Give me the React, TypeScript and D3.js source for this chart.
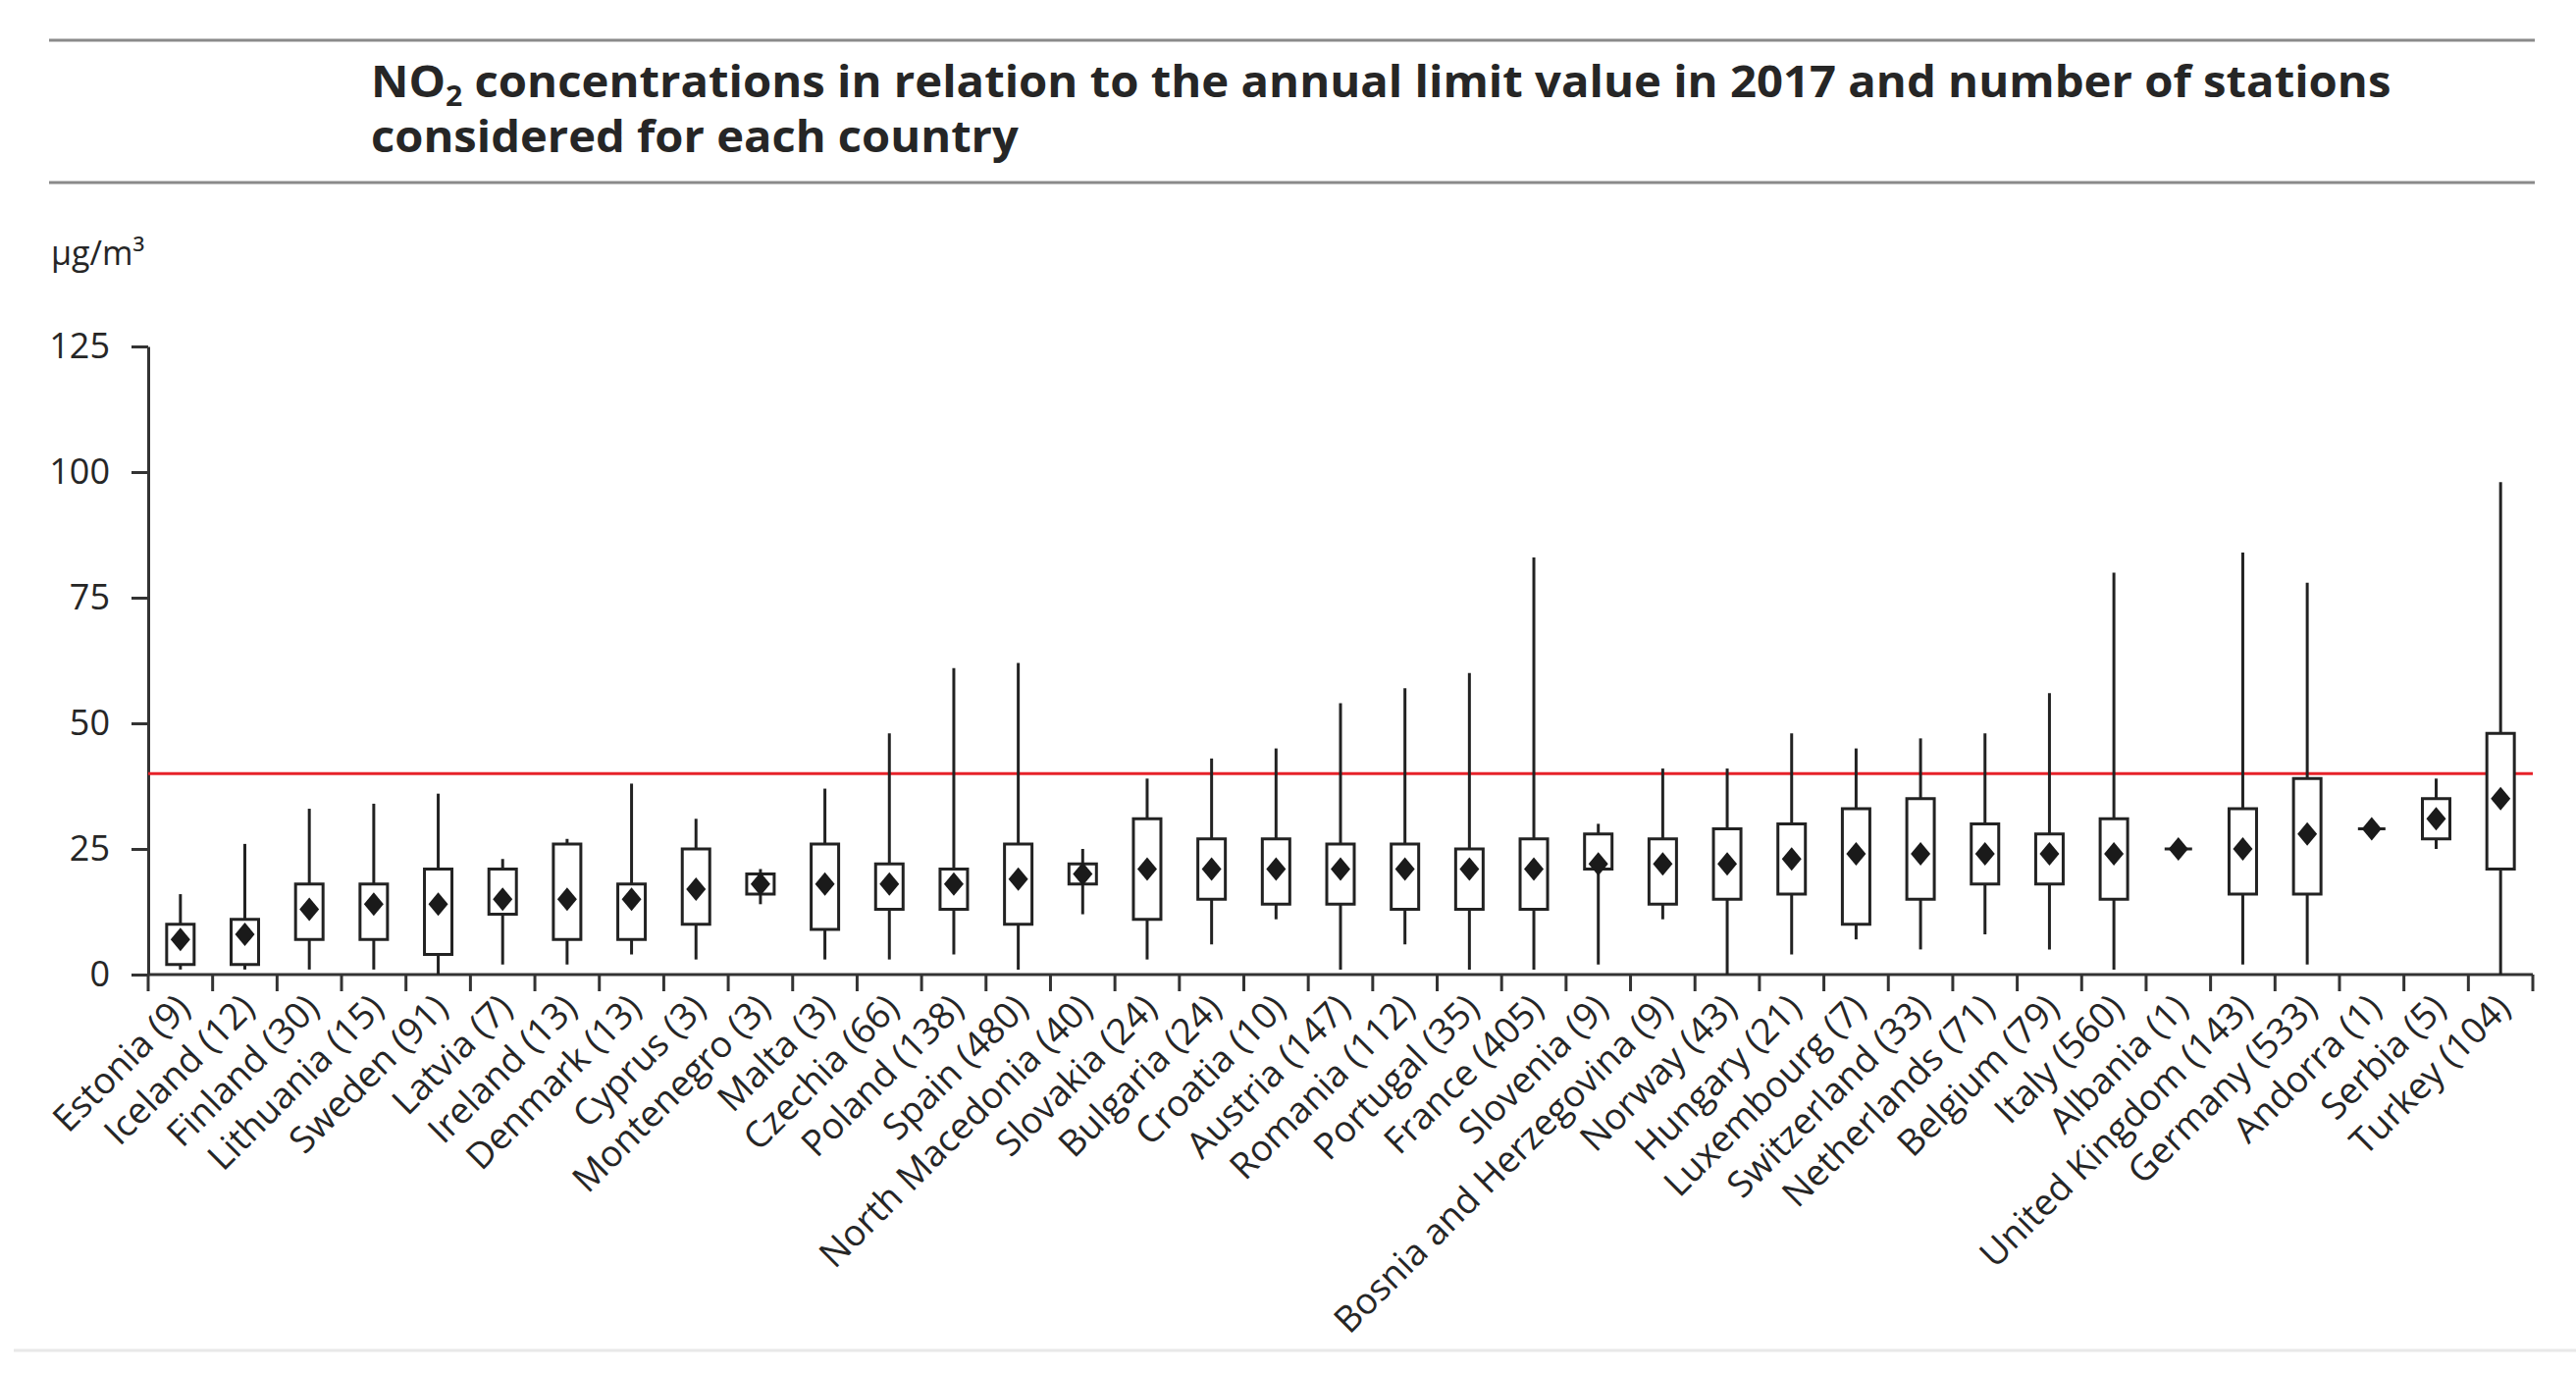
import React, { useEffect, useRef } from 'react';
import * as d3 from 'd3';

const countries = [
	'Estonia', 'Iceland', 'Finland', 'Lithuania', 'Sweden', 'Latvia', 'Ireland', 'Denmark',
	'Cyprus', 'Montenegro', 'Malta', 'Czechia', 'Poland', 'Spain', 'North Macedonia',
	'Slovakia', 'Bulgaria', 'Croatia', 'Austria', 'Romania', 'Portugal', 'France', 'Slovenia',
	'Bosnia and Herzegovina', 'Norway', 'Hungary', 'Luxembourg', 'Switzerland', 'Netherlands',
	'Belgium', 'Italy', 'Albania', 'United Kingdom', 'Germany', 'Andorra', 'Serbia', 'Turkey',
];
const stations = [9, 12, 30, 15, 91, 7, 13, 13, 3, 3, 3, 66, 138, 480, 40, 24, 24, 10, 147, 112, 35, 405, 9, 9, 43, 21, 7, 33, 71, 79, 560, 1, 143, 533, 1, 5, 104];

const mins = [1, 1, 1, 1, 0, 2, 2, 4, 3, 14, 3, 3, 4, 1, 12, 3, 6, 11, 1, 6, 1, 1, 2, 11, 0, 4, 7, 5, 8, 5, 1, 25, 2, 2, 29, 25, 0];
const q1s = [2, 2, 7, 7, 4, 12, 7, 7, 10, 16, 9, 13, 13, 10, 18, 11, 15, 14, 14, 13, 13, 13, 21, 14, 15, 16, 10, 15, 18, 18, 15, 25, 16, 16, 29, 27, 21];
const medians = [7, 8, 13, 14, 14, 15, 15, 15, 17, 18, 18, 18, 18, 19, 20, 21, 21, 21, 21, 21, 21, 21, 22, 22, 22, 23, 24, 24, 24, 24, 24, 25, 25, 28, 29, 31, 35];
const q3s = [10, 11, 18, 18, 21, 21, 26, 18, 25, 20, 26, 22, 21, 26, 22, 31, 27, 27, 26, 26, 25, 27, 28, 27, 29, 30, 33, 35, 30, 28, 31, 25, 33, 39, 29, 35, 48];
const maxs = [16, 26, 33, 34, 36, 23, 27, 38, 31, 21, 37, 48, 61, 62, 25, 39, 43, 45, 54, 57, 60, 83, 30, 41, 41, 48, 45, 47, 48, 56, 80, 25, 84, 78, 29, 39, 98];

const yTicks = [0, 25, 50, 75, 100, 125];
const limitValue = 40;

const W = 2625;
const H = 1400;
const FONT = '"Open Sans", "Noto Sans", sans-serif';
const INK = '#262626';

const App: React.FC = () => {
	const ref = useRef<SVGSVGElement>(null);

	useEffect(() => {
		if (!ref.current) return;
		const svg = d3.select(ref.current);
		svg.selectAll('*').remove();

		const labels = countries.map((c, i) => `${c} (${stations[i]})`);
		const rows = labels.map((label, i) => ({
			label,
			min: mins[i],
			q1: q1s[i],
			med: medians[i],
			q3: q3s[i],
			max: maxs[i],
		}));

		const x = d3.scaleBand().domain(labels).range([151, 2581]).padding(0);
		const y = d3.scaleLinear().domain([0, 125]).range([993, 353]);
		const bw = 28;

		// header rules
		svg.append('line').attr('x1', 50).attr('x2', 2583).attr('y1', 41).attr('y2', 41)
			.attr('stroke', '#8a8a8a').attr('stroke-width', 3);
		svg.append('line').attr('x1', 50).attr('x2', 2583).attr('y1', 186).attr('y2', 186)
			.attr('stroke', '#8a8a8a').attr('stroke-width', 3);
		svg.append('line').attr('x1', 14).attr('x2', W).attr('y1', 1376).attr('y2', 1376)
			.attr('stroke', '#e8e8e8').attr('stroke-width', 3);

		// title, squeezed horizontally to the condensed look of the original
		const title = (ty: number, width: number) => {
			const gT = svg.append('g');
			const t = gT.append('text')
				.attr('font-family', FONT).attr('font-weight', 700).attr('font-size', 44)
				.attr('fill', INK);
			return { gT, t, ty, width };
		};
		const l1 = title(99, 2059);
		l1.t.append('tspan').text('NO');
		l1.t.append('tspan').attr('font-size', 28).attr('dy', 9).text('2');
		l1.t.append('tspan').attr('dy', -9).text(' concentrations in relation to the annual limit value in 2017 and number of stations');
		const l2 = title(155, 661);
		l2.t.text('considered for each country');
		[l1, l2].forEach(({ gT, t, ty, width }) => {
			const w = (t.node() as SVGTextElement).getBBox().width || width;
			gT.attr('transform', `translate(378,${ty}) scale(${width / w},1)`);
		});

		svg.append('text').attr('x', 52).attr('y', 270)
			.attr('font-family', FONT).attr('font-size', 34).attr('fill', INK)
			.text('µg/m³');

		// y axis
		const yAxis = svg.append('g').attr('transform', 'translate(151,0)')
			.call(d3.axisLeft(y).tickValues(yTicks).tickSize(17).tickSizeOuter(0).tickPadding(22));
		yAxis.select('.domain').attr('stroke', '#333').attr('stroke-width', 3);
		yAxis.selectAll('.tick line').attr('stroke', '#333').attr('stroke-width', 3);
		yAxis.selectAll('.tick text').attr('font-family', FONT).attr('font-size', 36).attr('fill', INK);

		// x axis with ticks between categories
		const g = svg.append('g');
		g.append('line').attr('x1', 151).attr('x2', 2581).attr('y1', y(0)).attr('y2', y(0))
			.attr('stroke', '#333').attr('stroke-width', 3);
		const edges = labels.map((l) => x(l) ?? 0).concat([2581]);
		g.selectAll('line.xt').data(edges).enter().append('line').attr('class', 'xt')
			.attr('x1', (d) => d).attr('x2', (d) => d)
			.attr('y1', y(0)).attr('y2', y(0) + 17)
			.attr('stroke', '#333').attr('stroke-width', 3);
		g.selectAll('text.xl').data(labels).enter().append('text').attr('class', 'xl')
			.attr('transform', (d) => `translate(${(x(d) ?? 0) + x.bandwidth() / 2 + 12},${y(0) + 36}) rotate(-45)`)
			.attr('text-anchor', 'end')
			.attr('font-family', FONT).attr('font-size', 37).attr('fill', INK)
			.text((d) => d);

		// limit value line
		svg.append('line').attr('x1', 151).attr('x2', 2581)
			.attr('y1', y(limitValue)).attr('y2', y(limitValue))
			.attr('stroke', '#e62229').attr('stroke-width', 3);

		// boxes
		const boxes = svg.append('g').selectAll('g').data(rows).enter().append('g')
			.attr('transform', (d) => `translate(${(x(d.label) ?? 0) + x.bandwidth() / 2},0)`);
		boxes.append('line').attr('x1', 0).attr('x2', 0)
			.attr('y1', (d) => y(d.min)).attr('y2', (d) => y(d.max))
			.attr('stroke', '#222').attr('stroke-width', 3);
		boxes.append('path')
			.attr('d', (d) => `M${-bw / 2},${y(d.q3)}H${bw / 2}V${y(d.q1)}H${-bw / 2}Z`)
			.attr('fill', '#fff').attr('stroke', '#222').attr('stroke-width', 3);
		boxes.append('path')
			.attr('d', (d) => `M0,${y(d.med) - 12}L10,${y(d.med)}L0,${y(d.med) + 12}L-10,${y(d.med)}Z`)
			.attr('fill', '#1a1a1a');
	}, []);

	return (
		<div style={{ position: 'absolute', left: 0, top: 0, background: '#fff' }}>
			<svg ref={ref} width={W} height={H} style={{ display: 'block' }}></svg>
		</div>
	);
};

export default App;
